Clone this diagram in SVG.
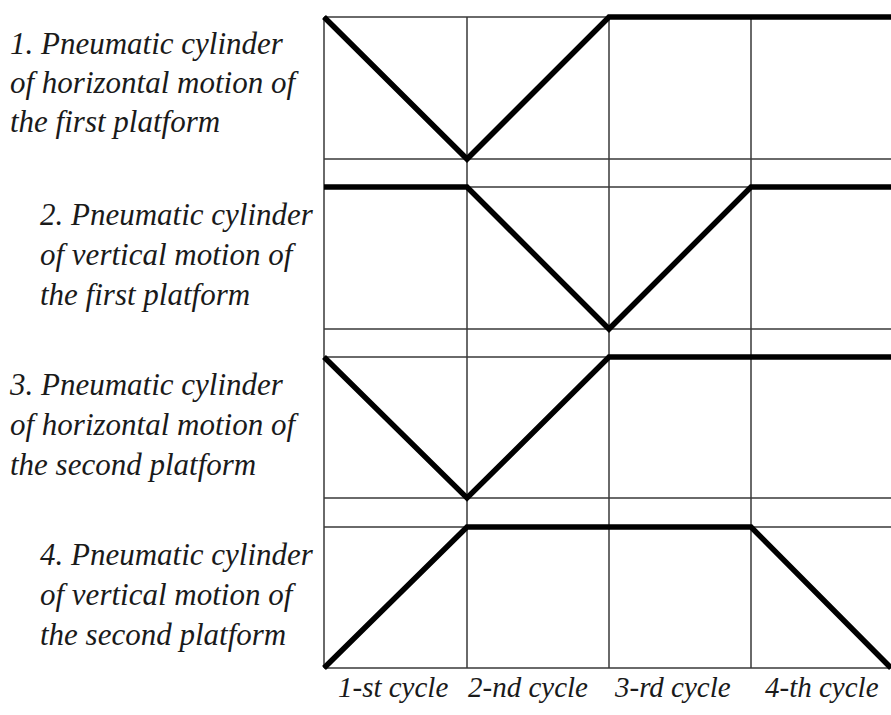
<svg xmlns="http://www.w3.org/2000/svg" width="891" height="715" viewBox="0 0 891 715">
<style>
.grid{stroke:#3a3a3a;stroke-width:1.5;fill:none}
.trace{stroke:#000;stroke-width:5.5;fill:none;stroke-linejoin:miter;stroke-linecap:butt}
.lbl{font-family:"Liberation Serif","Times New Roman",serif;font-style:italic;font-size:31px;fill:#1a1a1a}
.cyc{font-family:"Liberation Serif","Times New Roman",serif;font-style:italic;font-size:29px;fill:#1a1a1a}
</style>
<rect width="891" height="715" fill="#fff"/>
<g id="grid">
<path class="grid" d="M324,17H891M324,159H891M324,187H891M324,329H891M324,357H891M324,498H891M324,527H891M324,668H891M324,17V668M467,17V668M609,17V668M751,17V668"/>
</g>
<g id="cylinder1">
<text class="lbl" x="10" y="54">1. Pneumatic cylinder</text>
<text class="lbl" x="10" y="93">of horizontal motion of</text>
<text class="lbl" x="10" y="132">the first platform</text>
<polyline class="trace" points="324,17 467,159 609,17 891,17"/>
</g>
<g id="cylinder2">
<text class="lbl" x="40" y="225">2. Pneumatic cylinder</text>
<text class="lbl" x="40" y="265">of vertical motion of</text>
<text class="lbl" x="40" y="305">the first platform</text>
<polyline class="trace" points="324,187 467,187 609,329 751,187 891,187"/>
</g>
<g id="cylinder3">
<text class="lbl" x="10" y="395">3. Pneumatic cylinder</text>
<text class="lbl" x="10" y="435">of horizontal motion of</text>
<text class="lbl" x="10" y="475">the second platform</text>
<polyline class="trace" points="324,357 467,498 609,357 891,357"/>
</g>
<g id="cylinder4">
<text class="lbl" x="40" y="565">4. Pneumatic cylinder</text>
<text class="lbl" x="40" y="605">of vertical motion of</text>
<text class="lbl" x="40" y="645">the second platform</text>
<polyline class="trace" points="324,668 467,527 751,527 891,668"/>
</g>
<g id="cycles">
<text class="cyc" x="338" y="697">1-st cycle</text>
<text class="cyc" x="468" y="697">2-nd cycle</text>
<text class="cyc" x="615" y="697">3-rd cycle</text>
<text class="cyc" x="765" y="697">4-th cycle</text>
</g>
</svg>
